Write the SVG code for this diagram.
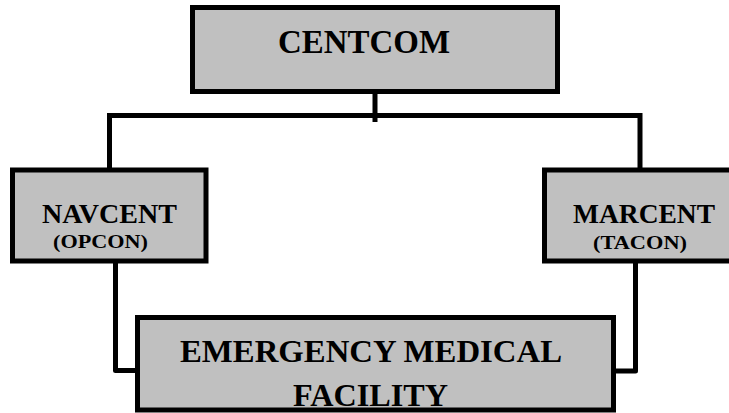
<svg xmlns="http://www.w3.org/2000/svg" width="729" height="413" viewBox="0 0 729 413">
<style>
.box{fill:#c0c0c0;stroke:#000;stroke-width:5}
.conn{fill:none;stroke:#000;stroke-width:5}
.t{font-family:'Liberation Serif','Times New Roman','DejaVu Serif',serif;font-weight:700;fill:#000;text-anchor:middle}
</style>
<rect width="729" height="413" fill="#fff"/>
<g id="connectors">
<path class="conn" d="M375,94 V122" stroke-linejoin="miter"/>
<path class="conn" d="M109.5,170 V115.5 H640 V170" stroke-linejoin="miter"/>
<path class="conn" d="M115.5,261 V370.5 H137.5" stroke-linejoin="round"/>
<path class="conn" d="M635.5,261 V371 H613.5" stroke-linejoin="round"/>
</g>
<g id="centcom">
<rect class="box" x="192.5" y="7.5" width="365" height="84"/>
<text class="t" x="364" y="53" font-size="33" textLength="172" lengthAdjust="spacingAndGlyphs">CENTCOM</text>
</g>
<g id="navcent">
<rect class="box" x="12.5" y="170" width="193.5" height="91"/>
<text class="t" x="109.5" y="223" font-size="28" textLength="135" lengthAdjust="spacingAndGlyphs">NAVCENT</text>
<text class="t" x="100.5" y="248" font-size="19" textLength="95" lengthAdjust="spacingAndGlyphs">(OPCON)</text>
</g>
<g id="marcent">
<rect class="box" x="544.5" y="170" width="200" height="91"/>
<text class="t" x="644" y="223" font-size="28" textLength="142" lengthAdjust="spacingAndGlyphs">MARCENT</text>
<text class="t" x="640" y="249" font-size="19" textLength="94" lengthAdjust="spacingAndGlyphs">(TACON)</text>
</g>
<g id="emf">
<rect class="box" x="137.5" y="317.5" width="476" height="92.5"/>
<text class="t" x="371" y="362" font-size="32" textLength="382" lengthAdjust="spacingAndGlyphs">EMERGENCY MEDICAL</text>
<text class="t" x="370.5" y="406" font-size="32" textLength="155" lengthAdjust="spacingAndGlyphs">FACILITY</text>
</g>
</svg>
